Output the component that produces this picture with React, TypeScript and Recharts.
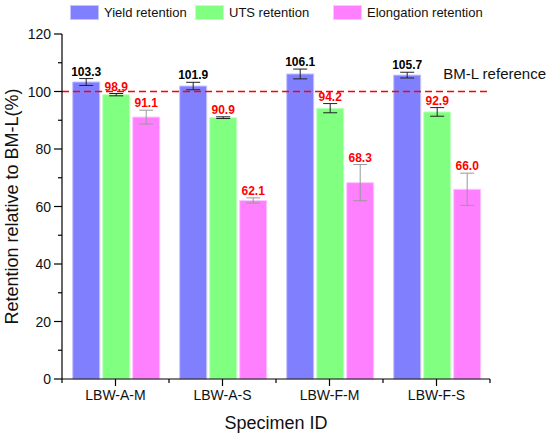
import { BarChart, Bar, XAxis, YAxis, ErrorBar, LabelList, ReferenceLine, Legend } from 'recharts';

const categories = ['LBW-A-M', 'LBW-A-S', 'LBW-F-M', 'LBW-F-S'];
const yieldRetention = [103.3, 101.9, 106.1, 105.7];
const utsRetention = [98.9, 90.9, 94.2, 92.9];
const elongRetention = [91.1, 62.1, 68.3, 66.0];
const yieldErr = [1.2, 1.3, 1.7, 1.0];
const utsErr = [0.4, 0.3, 1.6, 1.5];
const elongErr = [2.4, 0.9, 6.3, 5.6];
const yTicks = [0, 10, 20, 30, 40, 50, 60, 70, 80, 90, 100, 110, 120];
const referenceValue = 100;

const FONT = '"Liberation Sans", Arial, sans-serif';

const series = [
  { key: 'yieldRet', err: 'yieldErr', errs: yieldErr, name: 'Yield retention', fill: '#8080ff', stroke: '#c4c4ff', errColor: '#222', labelColor: '#000', legendLeft: 70 },
  { key: 'utsRet', err: 'utsErr', errs: utsErr, name: 'UTS retention', fill: '#80ff80', stroke: '#c4ffc4', errColor: '#222', labelColor: '#ff0000', legendLeft: 195 },
  { key: 'elongRet', err: 'elongErr', errs: elongErr, name: 'Elongation retention', fill: '#ff80ff', stroke: '#ffc4ff', errColor: '#999', labelColor: '#ff0000', legendLeft: 333 },
];

const data = categories.map((id, i) => ({
  id,
  yieldRet: yieldRetention[i],
  yieldErr: yieldErr[i],
  utsRet: utsRetention[i],
  utsErr: utsErr[i],
  elongRet: elongRetention[i],
  elongErr: elongErr[i],
}));

const Y_TICK = 8;
const Y_MARGIN = 3;
const X_TICK = 7;
const X_MARGIN = 4;

const YTick = (props: any) => {
  const { x, y, payload } = props;
  const major = payload.value % 20 === 0;
  const axisX = x + Y_TICK + Y_MARGIN;
  return (
    <g>
      <line x1={axisX - (major ? Y_TICK : 4)} x2={axisX} y1={y} y2={y} stroke="#000" strokeWidth={1.2} />
      {major && (
        <text x={x} y={y} dy={5} textAnchor="end" fontSize={14} fontFamily={FONT} fill="#111">
          {payload.value}
        </text>
      )}
    </g>
  );
};

const XTick = (props: any) => {
  const { x, y, payload, index } = props;
  const axisY = y - X_TICK - X_MARGIN;
  const half = payload.offset || 53.5;
  return (
    <g>
      <line x1={x} x2={x} y1={axisY} y2={axisY + X_TICK} stroke="#000" strokeWidth={1.2} />
      <line x1={x - half} x2={x - half} y1={axisY} y2={axisY + 4} stroke="#000" strokeWidth={1.2} />
      {index === categories.length - 1 && (
        <line x1={x + half} x2={x + half} y1={axisY} y2={axisY + 4} stroke="#000" strokeWidth={1.2} />
      )}
      <text x={x} y={y} dy="0.71em" textAnchor="middle" fontSize={14} fontFamily={FONT} fill="#111">
        {payload.value}
      </text>
    </g>
  );
};

const YLabel = (props: any) => {
  const { viewBox } = props;
  const cx = viewBox.x + 18;
  const cy = viewBox.y + viewBox.height / 2;
  return (
    <text x={cx} y={cy} transform={`rotate(-90, ${cx}, ${cy})`} textAnchor="middle" fontSize={18} fontFamily={FONT} fill="#111">
      Retention relative to BM-L(%)
    </text>
  );
};

const XLabel = (props: any) => {
  const { viewBox } = props;
  return (
    <text x={viewBox.x + viewBox.width / 2} y={viewBox.y + 50} textAnchor="middle" fontSize={18} fontFamily={FONT} fill="#111">
      Specimen ID
    </text>
  );
};

const RefLabel = (props: any) => {
  const { viewBox } = props;
  return (
    <text x={viewBox.x + viewBox.width + 56} y={viewBox.y - 13} textAnchor="end" fontSize={15} fontFamily={FONT} fill="#111">
      BM-L reference
    </text>
  );
};

const makeValueLabel = (errs: number[], color: string) => (props: any) => {
  const { x, y, width, height, value, index } = props;
  const errPx = value ? (errs[index] * height) / value : 0;
  return (
    <text x={x + width / 2} y={y - errPx - 3} textAnchor="middle" fontSize={12} fontWeight="bold" fontFamily={FONT} fill={color}>
      {Number(value).toFixed(1)}
    </text>
  );
};

const LegendContent = () => (
  <div style={{ position: 'relative', height: 20, fontFamily: FONT, fontSize: 13, color: '#111' }}>
    {series.map((s) => (
      <div key={s.key} style={{ position: 'absolute', left: s.legendLeft, top: 0, display: 'flex', alignItems: 'center' }}>
        <span style={{ display: 'inline-block', width: 29, height: 15, background: s.fill, border: `1px solid ${s.stroke}`, boxSizing: 'border-box' }} />
        <span style={{ marginLeft: 5, whiteSpace: 'nowrap' }}>{s.name}</span>
      </div>
    ))}
  </div>
);

export default function App() {
  return (
    <div style={{ position: 'absolute', left: 0, top: 0, background: '#fff' }}>
      <BarChart
        width={550}
        height={437}
        data={data}
        margin={{ top: 34, right: 60, bottom: 0, left: 0 }}
        barCategoryGap={10.7}
        barGap={3}
      >
        <Legend
          layout="horizontal"
          verticalAlign="middle"
          align="center"
          wrapperStyle={{ top: 5, left: 0, width: 550 }}
          content={<LegendContent />}
        />
        <XAxis
          dataKey="id"
          height={58}
          axisLine={{ stroke: '#000', strokeWidth: 1.2 }}
          tickLine={false}
          tickSize={X_TICK}
          tickMargin={X_MARGIN}
          tick={<XTick />}
          interval={0}
          label={<XLabel />}
        />
        <YAxis
          width={62}
          domain={[0, 120]}
          ticks={yTicks}
          interval={0}
          axisLine={{ stroke: '#000', strokeWidth: 1.2 }}
          tickLine={false}
          tickSize={Y_TICK}
          tickMargin={Y_MARGIN}
          tick={<YTick />}
          label={<YLabel />}
        />
        {series.map((s) => (
          <Bar key={s.key} dataKey={s.key} name={s.name} fill={s.fill} stroke={s.stroke} strokeWidth={1} isAnimationActive={false}>
            <ErrorBar dataKey={s.err} width={7} stroke={s.errColor} strokeWidth={1} direction="y" />
            <LabelList dataKey={s.key} content={makeValueLabel(s.errs, s.labelColor)} />
          </Bar>
        ))}
        <ReferenceLine
          y={referenceValue}
          stroke="#ff0000"
          strokeWidth={1.5}
          strokeDasharray="7 4"
          label={<RefLabel />}
        />
      </BarChart>
    </div>
  );
}
